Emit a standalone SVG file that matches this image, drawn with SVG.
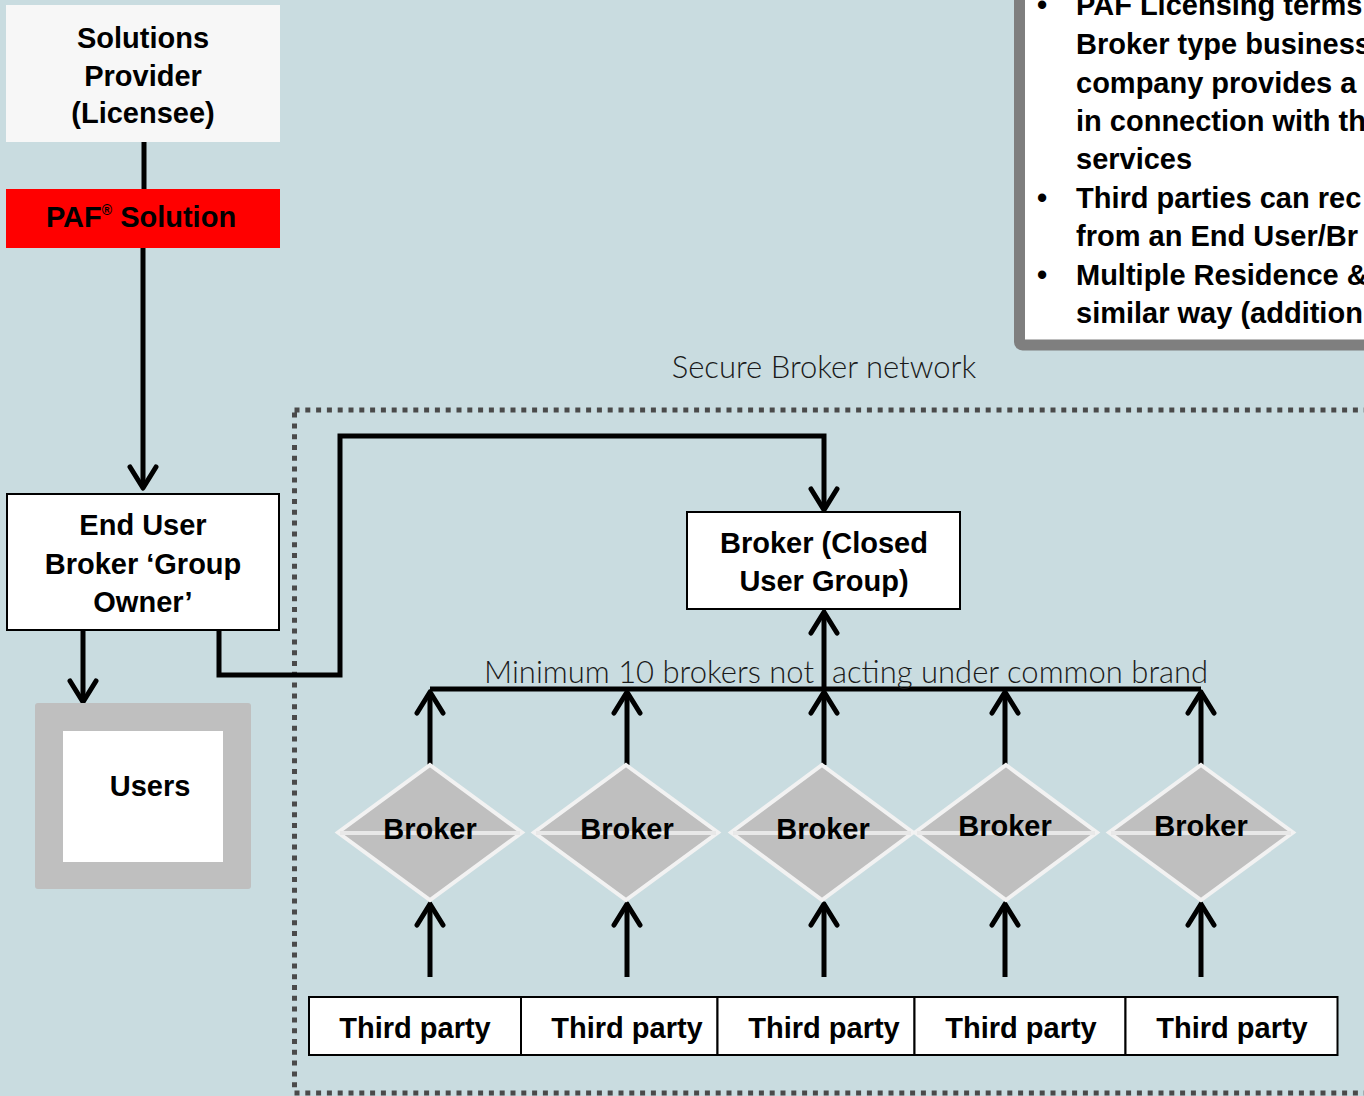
<svg xmlns="http://www.w3.org/2000/svg" width="1364" height="1096" viewBox="0 0 1364 1096">
<style>
.t{font-family:"Liberation Sans",Arial,sans-serif;font-weight:bold;font-size:29px;fill:#000;text-anchor:middle}
.tl{font-family:"Liberation Sans",Arial,sans-serif;font-weight:bold;font-size:29px;fill:#000}
.lt{font-family:Lato,"Liberation Sans",sans-serif;font-weight:300;font-size:31px;fill:#1a1a1a}
.box{fill:#fff;stroke:#000;stroke-width:2}
.con{fill:none;stroke:#000;stroke-width:5}
.dia{fill:#bfbfbf;stroke:#f2f2f2;stroke-width:4;stroke-linejoin:miter}
.mid{stroke:#e8e8e8;stroke-width:4}
</style>
<defs>
<marker id="ah" viewBox="-26 -16 30 32" refX="0" refY="0" markerWidth="30" markerHeight="32" markerUnits="userSpaceOnUse" orient="auto">
<path d="M-21,-13 L0,0 L-21,13" fill="none" stroke="#000" stroke-width="5" stroke-linecap="round" stroke-linejoin="round"/>
</marker>
</defs>
<rect x="0" y="0" width="1364" height="1096" fill="#c9dce0"/>

<g id="info-box">
<rect x="1019.5" y="-20" width="400" height="365" fill="#fff" stroke="#7f7f7f" stroke-width="11" rx="3"/>
<text class="tl" x="1037" y="15">•</text>
<text class="tl" x="1076" y="15">PAF Licensing terms</text>
<text class="tl" x="1076" y="54">Broker type business</text>
<text class="tl" x="1076" y="93">company provides a</text>
<text class="tl" x="1076" y="131">in connection with th</text>
<text class="tl" x="1076" y="169">services</text>
<text class="tl" x="1037" y="208">•</text>
<text class="tl" x="1076" y="208">Third parties can rec</text>
<text class="tl" x="1076" y="246">from an End User/Br</text>
<text class="tl" x="1037" y="285">•</text>
<text class="tl" x="1076" y="285">Multiple Residence &amp;</text>
<text class="tl" x="1076" y="323">similar way (addition</text>
</g>

<g id="network-border">
<rect x="294.5" y="410" width="1200" height="683" fill="none" stroke="#4a4a4a" stroke-width="5" stroke-dasharray="5 5.8"/>
<text class="lt" x="824" y="378" text-anchor="middle">Secure Broker network</text>
</g>

<g id="connectors">
<line class="con" x1="144" y1="142" x2="144" y2="189"/>
<line class="con" x1="143" y1="248" x2="143" y2="488" marker-end="url(#ah)"/>
<line class="con" x1="83" y1="630" x2="83" y2="702" marker-end="url(#ah)"/>
<path class="con" d="M219,630 V675 H340 V436 H824 V510" marker-end="url(#ah)"/>
<line class="con" x1="430" y1="689" x2="1201" y2="689"/>
<line class="con" x1="824" y1="689" x2="824" y2="612" marker-end="url(#ah)"/>
<line class="con" x1="430" y1="765" x2="430" y2="692" marker-end="url(#ah)"/>
<line class="con" x1="627" y1="765" x2="627" y2="692" marker-end="url(#ah)"/>
<line class="con" x1="824" y1="765" x2="824" y2="692" marker-end="url(#ah)"/>
<line class="con" x1="1005" y1="765" x2="1005" y2="692" marker-end="url(#ah)"/>
<line class="con" x1="1201" y1="765" x2="1201" y2="692" marker-end="url(#ah)"/>
<line class="con" x1="430" y1="977" x2="430" y2="904" marker-end="url(#ah)"/>
<line class="con" x1="627" y1="977" x2="627" y2="904" marker-end="url(#ah)"/>
<line class="con" x1="824" y1="977" x2="824" y2="904" marker-end="url(#ah)"/>
<line class="con" x1="1005" y1="977" x2="1005" y2="904" marker-end="url(#ah)"/>
<line class="con" x1="1201" y1="977" x2="1201" y2="904" marker-end="url(#ah)"/>
<text class="lt" x="814" y="683" text-anchor="end">Minimum 10 brokers not</text>
<text class="lt" x="832" y="683">acting under common brand</text>
</g>

<g id="solutions-provider">
<rect x="6" y="5" width="274" height="137" fill="#f7f7f7"/>
<text class="t" x="143" y="48">Solutions</text>
<text class="t" x="143" y="86">Provider</text>
<text class="t" x="143" y="123">(Licensee)</text>
</g>

<g id="paf-solution">
<rect x="6" y="189" width="274" height="59" fill="#ff0000"/>
<text class="t" x="141" y="227">PAF<tspan font-size="14" dy="-12">®</tspan><tspan dy="12"> Solution</tspan></text>
</g>

<g id="end-user">
<rect class="box" x="7" y="494" width="272" height="136"/>
<text class="t" x="143" y="535">End User</text>
<text class="t" x="143" y="574">Broker ‘Group</text>
<text class="t" x="143" y="612">Owner’</text>
</g>

<g id="users">
<rect x="35" y="703" width="216" height="186" rx="3" fill="#bfbfbf"/>
<rect x="63" y="731" width="160" height="131" fill="#fff"/>
<text class="t" x="150" y="796">Users</text>
</g>

<g id="broker-cug">
<rect class="box" x="687" y="512" width="273" height="97"/>
<text class="t" x="824" y="553">Broker (Closed</text>
<text class="t" x="824" y="591">User Group)</text>
</g>

<g id="broker-1">
<path class="dia" d="M430,765 L522,832.5 L430,900 L338,832.5 Z"/>
<line class="mid" x1="340" y1="833" x2="520" y2="833"/>
<text class="t" x="430" y="839">Broker</text>
</g>
<g id="broker-2">
<path class="dia" d="M626,765 L718,832.5 L626,900 L534,832.5 Z"/>
<line class="mid" x1="536" y1="833" x2="716" y2="833"/>
<text class="t" x="627" y="839">Broker</text>
</g>
<g id="broker-3">
<path class="dia" d="M822,765 L913,832.5 L822,900 L731,832.5 Z"/>
<line class="mid" x1="733" y1="833" x2="911" y2="833"/>
<text class="t" x="823" y="839" font-size="27">Broker</text>
</g>
<g id="broker-4">
<path class="dia" d="M1006,765 L1097,832.5 L1006,900 L915,832.5 Z"/>
<line class="mid" x1="917" y1="833" x2="1095" y2="833"/>
<text class="t" x="1005" y="836">Broker</text>
</g>
<g id="broker-5">
<path class="dia" d="M1201,765 L1293,832.5 L1201,900 L1109,832.5 Z"/>
<line class="mid" x1="1111" y1="833" x2="1291" y2="833"/>
<text class="t" x="1201" y="836">Broker</text>
</g>

<g id="third-party-1">
<rect class="box" x="309" y="997" width="212" height="58" stroke-width="1.5"/>
<text class="t" x="415" y="1038">Third party</text>
</g>
<g id="third-party-2">
<rect class="box" x="521" y="997" width="196.5" height="58" stroke-width="1.5"/>
<text class="t" x="627" y="1038">Third party</text>
</g>
<g id="third-party-3">
<rect class="box" x="717.5" y="997" width="197" height="58" stroke-width="1.5"/>
<text class="t" x="824" y="1038">Third party</text>
</g>
<g id="third-party-4">
<rect class="box" x="914.5" y="997" width="211" height="58" stroke-width="1.5"/>
<text class="t" x="1021" y="1038">Third party</text>
</g>
<g id="third-party-5">
<rect class="box" x="1125.5" y="997" width="212" height="58" stroke-width="1.5"/>
<text class="t" x="1232" y="1038">Third party</text>
</g>
</svg>
